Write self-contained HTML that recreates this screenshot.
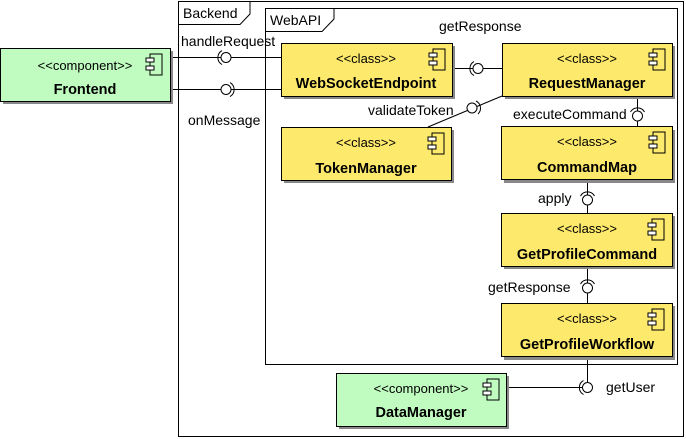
<!DOCTYPE html>
<html><head><meta charset="utf-8"><style>
html,body{margin:0;padding:0;background:#fff;width:686px;height:439px;overflow:hidden}
text{font-family:"Liberation Sans",sans-serif;fill:#000}
</style></head><body>
<svg width="686" height="439" viewBox="0 0 686 439" xmlns="http://www.w3.org/2000/svg">
<defs>
<g id="ic"><rect x="4" y="0" width="12" height="21" fill="none" stroke="#000"/><rect x="0" y="4" width="8" height="4" fill="#fff" stroke="#000"/><rect x="0" y="12" width="8" height="4" fill="#fff" stroke="#000"/></g>
</defs>
<rect x="178.5" y="1.5" width="505" height="435" fill="none" stroke="#000"/>
<path d="M178.5 24.5 H240 L250 14 V1.5" fill="none" stroke="#000"/>
<text x="183" y="18" font-size="14">Backend</text>
<rect x="265.5" y="8.5" width="412" height="356" fill="none" stroke="#000"/>
<path d="M265.5 31.5 H322 L334 19 V8.5" fill="none" stroke="#000"/>
<text x="270" y="25" font-size="14">WebAPI</text>

<g stroke="#000" fill="none">
<line x1="170" y1="57.5" x2="281" y2="57.5"/>
<line x1="170" y1="89.5" x2="281" y2="89.5"/>
<line x1="452" y1="68.5" x2="502" y2="68.5"/>
<line x1="502" y1="96" x2="428" y2="127"/>
<line x1="637.5" y1="96" x2="637.5" y2="127"/>
<line x1="587.5" y1="180" x2="587.5" y2="213"/>
<line x1="587.5" y1="266" x2="587.5" y2="303"/>
<line x1="587.5" y1="357" x2="587.5" y2="387"/>
<line x1="506" y1="387.5" x2="587" y2="387.5"/>
</g>

<g stroke="#000" fill="#fff">
<circle cx="226" cy="57.5" r="5"/><path d="M222 50.5 A8 8 0 0 0 222 64.5" fill="none"/>
<circle cx="226" cy="89.5" r="5"/><path d="M230 82.5 A8 8 0 0 1 230 96.5" fill="none"/>
<circle cx="478" cy="68.5" r="5"/><path d="M474 61.5 A8 8 0 0 0 474 75.5" fill="none"/>
<circle cx="472" cy="108" r="5"/><path d="M476 101 A8 8 0 0 1 478 114" fill="none"/>
<circle cx="637.5" cy="116" r="5"/><path d="M630.5 112 A8 8 0 0 1 644.5 112" fill="none"/>
<circle cx="587.5" cy="200" r="5"/><path d="M580.5 196 A8 8 0 0 1 594.5 196" fill="none"/>
<circle cx="587.5" cy="288" r="5"/><path d="M580.5 284 A8 8 0 0 1 594.5 284" fill="none"/>
<circle cx="587.5" cy="387.5" r="5"/><path d="M583.5 380.5 A8 8 0 0 0 583.5 394.5" fill="none"/>
</g>

<g font-size="14">
<text x="181" y="46">handleRequest</text>
<text x="188" y="125">onMessage</text>
<text x="439" y="31">getResponse</text>
<text x="368" y="115">validateToken</text>
<text x="513" y="119">executeCommand</text>
<text x="538" y="203">apply</text>
<text x="488" y="292">getResponse</text>
<text x="606" y="392">getUser</text>
</g>

<g font-size="13">
<rect x="3" y="51" width="170" height="53" fill="#888"/>
<rect x="0.5" y="48.5" width="170" height="53" fill="#c0fcc0" stroke="#000"/>
<use href="#ic" x="146" y="54"/>
<text x="85" y="70" text-anchor="middle">&lt;&lt;component&gt;&gt;</text>
<text x="85" y="94" text-anchor="middle" font-weight="bold" font-size="14.5">Frontend</text>

<rect x="339" y="376" width="170" height="53" fill="#888"/>
<rect x="336.5" y="373.5" width="170" height="53" fill="#c0fcc0" stroke="#000"/>
<use href="#ic" x="483" y="379"/>
<text x="421" y="393" text-anchor="middle">&lt;&lt;component&gt;&gt;</text>
<text x="421" y="417" text-anchor="middle" font-weight="bold" font-size="14.5">DataManager</text>

<rect x="284" y="46" width="171" height="53" fill="#888"/>
<rect x="281.5" y="43.5" width="171" height="53" fill="#fde96b" stroke="#000"/>
<use href="#ic" x="429" y="49"/>
<text x="366" y="63" text-anchor="middle">&lt;&lt;class&gt;&gt;</text>
<text x="366" y="88" text-anchor="middle" font-weight="bold" font-size="14.5">WebSocketEndpoint</text>

<rect x="505" y="46" width="170" height="53" fill="#888"/>
<rect x="502.5" y="43.5" width="170" height="53" fill="#fde96b" stroke="#000"/>
<use href="#ic" x="649" y="49"/>
<text x="587" y="63" text-anchor="middle">&lt;&lt;class&gt;&gt;</text>
<text x="587" y="88" text-anchor="middle" font-weight="bold" font-size="14.5">RequestManager</text>

<rect x="284" y="130" width="170" height="53" fill="#888"/>
<rect x="281.5" y="127.5" width="170" height="53" fill="#fde96b" stroke="#000"/>
<use href="#ic" x="428" y="133"/>
<text x="366" y="147" text-anchor="middle">&lt;&lt;class&gt;&gt;</text>
<text x="366" y="173" text-anchor="middle" font-weight="bold" font-size="14.5">TokenManager</text>

<rect x="504" y="130" width="171" height="53" fill="#888"/>
<rect x="501.5" y="126.5" width="171" height="53" fill="#fde96b" stroke="#000"/>
<use href="#ic" x="649" y="132"/>
<text x="587" y="146" text-anchor="middle">&lt;&lt;class&gt;&gt;</text>
<text x="587" y="172" text-anchor="middle" font-weight="bold" font-size="14.5">CommandMap</text>

<rect x="504" y="216" width="171" height="53" fill="#888"/>
<rect x="501.5" y="213.5" width="171" height="53" fill="#fde96b" stroke="#000"/>
<use href="#ic" x="648" y="219"/>
<text x="587" y="233" text-anchor="middle">&lt;&lt;class&gt;&gt;</text>
<text x="587" y="259" text-anchor="middle" font-weight="bold" font-size="14.5">GetProfileCommand</text>

<rect x="504" y="306" width="171" height="54" fill="#888"/>
<rect x="501.5" y="303.5" width="171" height="53" fill="#fde96b" stroke="#000"/>
<use href="#ic" x="648" y="309"/>
<text x="587" y="323" text-anchor="middle">&lt;&lt;class&gt;&gt;</text>
<text x="587" y="349" text-anchor="middle" font-weight="bold" font-size="14.5">GetProfileWorkflow</text>
</g>
</svg>
</body></html>
